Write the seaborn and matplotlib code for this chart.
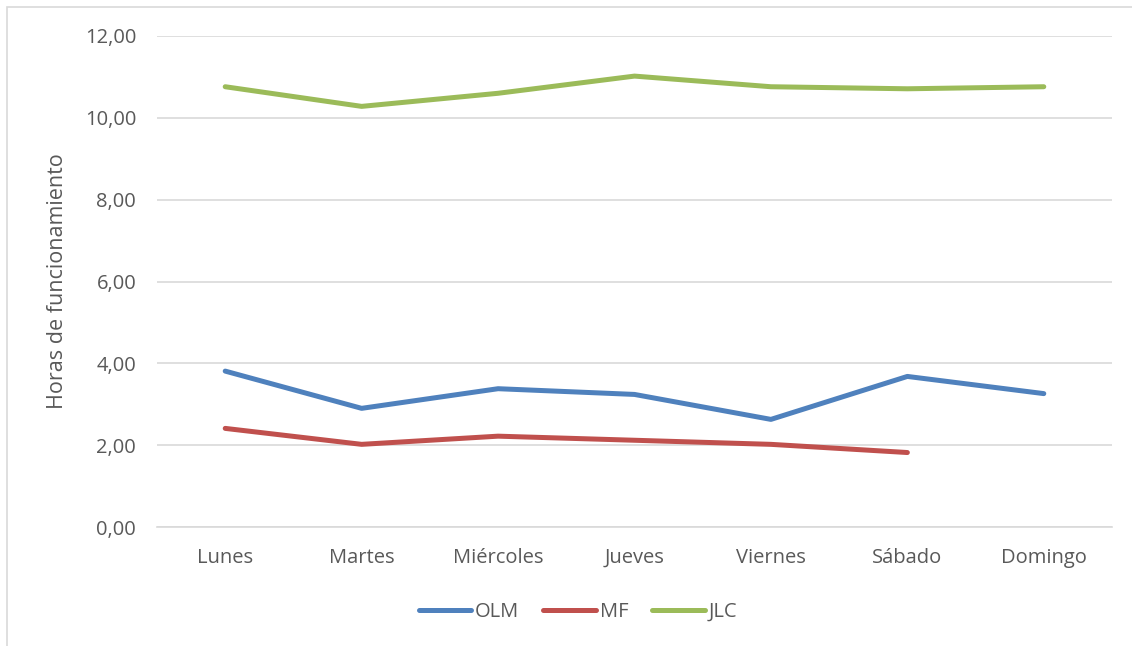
import matplotlib
matplotlib.use('Agg')
import pandas as pd
import numpy as np
import matplotlib.pyplot as plt
import seaborn as sns
from matplotlib.patches import Rectangle

dias = ['Lunes', 'Martes', 'Miércoles', 'Jueves', 'Viernes', 'Sábado', 'Domingo']
olm = [3.81, 2.90, 3.38, 3.24, 2.63, 3.68, 3.26]
mf = [2.41, 2.02, 2.22, 2.12, 2.02, 1.82, np.nan]
jlc = [10.76, 10.28, 10.60, 11.02, 10.76, 10.71, 10.76]

df = pd.DataFrame({'Dia': dias * 3,
                   'Horas': olm + mf + jlc,
                   'Serie': ['OLM'] * 7 + ['MF'] * 7 + ['JLC'] * 7})
df = df.dropna()

sns.set_style('white')
plt.rcParams['font.family'] = ['Open Sans', 'DejaVu Sans']
gris = '#595959'

fig = plt.figure(figsize=(11.32, 6.46), dpi=100)
ax = fig.add_axes([157 / 1132, 1 - 527 / 646, (1112 - 157) / 1132, (527 - 36) / 646])

colores = {'OLM': '#4F81BD', 'MF': '#C0504D', 'JLC': '#9BBB59'}
sns.lineplot(data=df, x='Dia', y='Horas', hue='Serie', palette=colores,
             linewidth=3.6, sort=False, ax=ax, legend=False,
             solid_capstyle='round', solid_joinstyle='round')

ax.set_xlim(-0.5, 6.5)
ax.set_ylim(0, 12)
ax.set_yticks(np.arange(0, 13, 2))
ax.set_yticklabels([f'{v:.2f}'.replace('.', ',') for v in np.arange(0, 13, 2)])
ax.yaxis.grid(True, color='#D9D9D9', linewidth=1.2)
ax.set_axisbelow(True)
for s in ['top', 'right', 'left']:
    ax.spines[s].set_visible(False)
ax.spines['bottom'].set_color('#D9D9D9')
ax.spines['bottom'].set_linewidth(1.2)
ax.tick_params(axis='both', length=0, labelsize=14.5, labelcolor=gris)
ax.tick_params(axis='y', pad=15)
ax.tick_params(axis='x', pad=15)
ax.set_xlabel('')
ax.set_ylabel('Horas de funcionamiento', fontsize=15.5, color=gris, labelpad=12)

handles = [plt.Line2D([], [], color=colores[k], linewidth=3.6, solid_capstyle='round')
           for k in ['OLM', 'MF', 'JLC']]
fig.legend(handles, ['OLM', 'MF', 'JLC'], loc='center',
           bbox_to_anchor=(578 / 1132, 1 - 612 / 646), ncol=3, frameon=False,
           fontsize=14.5, labelcolor=gris, handlelength=2.6, handletextpad=0.2,
           columnspacing=1.2)

fig.patches.append(Rectangle((7 / 1132, -0.02), 1.1, 1 - 7 / 646 + 0.02,
                             transform=fig.transFigure, fill=False,
                             edgecolor='#D9D9D9', linewidth=1.2))

fig.savefig('out.png', dpi=100, facecolor='white')
